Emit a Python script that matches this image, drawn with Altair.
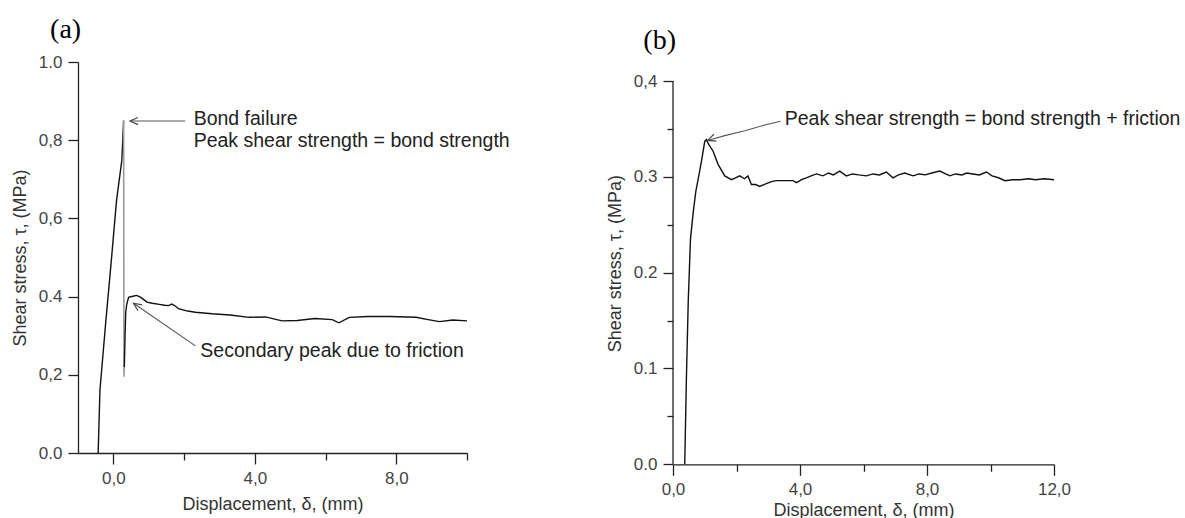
import altair as alt
import pandas as pd

# ---------------- data ----------------
# Panel (a)
a_rise_x = [-0.43, -0.38, -0.22, -0.06, 0.09, 0.24, 0.29]
a_rise_y = [0.0, 0.16, 0.33, 0.49, 0.646, 0.749, 0.85]
a_drop_x = [0.29, 0.30, 0.31]
a_drop_y = [0.85, 0.195, 0.22]
a_post_x = [0.31, 0.33, 0.35, 0.38, 0.43, 0.55, 0.66, 0.78, 0.85, 0.95, 1.1, 1.3, 1.45,
            1.56, 1.65, 1.75, 1.84, 2.1, 2.32, 2.79, 3.3, 3.83, 4.3, 4.77, 5.2, 5.7,
            6.19, 6.38, 6.67, 7.2, 7.8, 8.56, 8.9, 9.22, 9.6, 10.0]
a_post_y = [0.22, 0.30, 0.36, 0.381, 0.398, 0.401, 0.403, 0.398, 0.393, 0.386, 0.383,
            0.38, 0.378, 0.377, 0.381, 0.376, 0.369, 0.363, 0.36, 0.356, 0.353, 0.347,
            0.348, 0.338, 0.339, 0.344, 0.341, 0.333, 0.347, 0.349, 0.349, 0.347,
            0.341, 0.336, 0.34, 0.338]

# Panel (b)
b_x = [0.37, 0.42, 0.48, 0.55, 0.64, 0.72, 0.80, 0.90, 1.0, 1.05, 1.12, 1.26, 1.42, 1.63,
       1.84, 1.97, 2.1, 2.25, 2.36, 2.47, 2.6, 2.73, 2.94, 3.1, 3.26, 3.5, 3.78, 3.89,
       4.05, 4.2, 4.35, 4.52, 4.72, 4.9, 5.05, 5.25, 5.46, 5.65, 5.85, 6.09, 6.3, 6.5,
       6.72, 6.93, 7.1, 7.3, 7.56, 7.75, 7.95, 8.15, 8.4, 8.72, 8.9, 9.1, 9.25, 9.45,
       9.65, 9.87, 10.05, 10.25, 10.46, 10.7, 10.93, 11.2, 11.41, 11.7, 12.0]
b_y = [0.0, 0.087, 0.17, 0.235, 0.264, 0.285, 0.299, 0.317, 0.337, 0.339, 0.334, 0.327,
       0.313, 0.301, 0.297, 0.299, 0.301, 0.298, 0.301, 0.292, 0.292, 0.29, 0.293, 0.295,
       0.296, 0.296, 0.296, 0.294, 0.297, 0.299, 0.301, 0.303, 0.301, 0.304, 0.302,
       0.306, 0.301, 0.303, 0.302, 0.301, 0.303, 0.302, 0.305, 0.299, 0.302, 0.304,
       0.301, 0.303, 0.302, 0.304, 0.306, 0.301, 0.303, 0.302, 0.304, 0.303, 0.302,
       0.305, 0.301, 0.299, 0.296, 0.297, 0.297, 0.298, 0.297, 0.298, 0.297]

# axis ticks / labels
a_x_ticks = [0, 2, 4, 6, 8, 10]
a_x_labels = {0: "0,0", 4: "4,0", 8: "8,0"}
a_y_ticks = [0.0, 0.1, 0.2, 0.3, 0.4, 0.5, 0.6, 0.7, 0.8, 0.9, 1.0]
a_y_labels = {0.0: "0.0", 0.2: "0,2", 0.4: "0.4", 0.6: "0,6", 0.8: "0,8", 1.0: "1.0"}
b_x_ticks = [0, 2, 4, 6, 8, 10, 12]
b_x_labels = {0: "0,0", 4: "4,0", 8: "8,0", 12: "12,0"}
b_y_ticks = [0.0, 0.05, 0.1, 0.15, 0.2, 0.25, 0.3, 0.35, 0.4]
b_y_labels = {0.0: "0.0", 0.1: "0.1", 0.2: "0.2", 0.3: "0.3", 0.4: "0,4"}

x_title = "Displacement, δ, (mm)"
y_title = "Shear stress, τ, (MPa)"

# annotations (data units)
a_notes_text = ["Bond failure", "Peak shear strength = bond strength", "Secondary peak due to friction"]
a_notes_x = [2.27, 2.27, 2.46]
a_notes_y = [0.853, 0.797, 0.262]
a_arrow1_x = [2.03, 0.49]
a_arrow1_y = [0.849, 0.849]
a_arrow2_x = [2.32, 0.57]
a_arrow2_y = [0.274, 0.383]
a_heads_x = [0.47, 0.57]
a_heads_y = [0.849, 0.383]
a_heads_angle = [0, 35]

b_note_text = ["Peak shear strength = bond strength + friction"]
b_note_x = [3.52]
b_note_y = [0.360]
b_arrow_x = [3.39, 2.89, 2.26, 1.63, 1.09]
b_arrow_y = [0.358, 0.354, 0.348, 0.343, 0.338]
b_head_x = [1.09]
b_head_y = [0.338]
b_head_angle = [340]

panel_labels = ["(a)", "(b)"]
a_label_pos = (-1.35, 1.081)
b_label_pos = (-0.42, 0.442)

# ---------------- helpers ----------------
FONT = "Liberation Sans"
CHEVRON = "M 2 -0.9 L 0 0 L 2 0.9"


def label_expr(mapping):
    expr = "''"
    for v, t in sorted(mapping.items(), reverse=True):
        expr = f"abs(datum.value - {v}) < 1e-6 ? '{t}' : ({expr})"
    return expr


def major_test(mapping):
    parts = [f"abs(datum.value - {v}) < 1e-6" for v in mapping]
    return " || ".join(parts)


def make_axis(ticks, labels, title, major, minor, title_pad, domain=True):
    kw = dict(
        values=ticks,
        labelExpr=label_expr(labels),
        title=title,
        grid=False,
        tickSize={"condition": {"test": major_test(labels), "value": major}, "value": minor},
        labelPadding=6,
        titlePadding=title_pad,
        labelFlush=False,
        labelOverlap=False,
    )
    if not domain:
        kw["domain"] = False
    return alt.Axis(**kw)


def line_df(xs, ys):
    return pd.DataFrame({"x": xs, "y": ys, "i": list(range(len(xs)))})


def line_layer(df, xs, ys, color, width):
    return alt.Chart(df).mark_line(color=color, strokeWidth=width).encode(
        x=xs, y=ys, order="i:Q")


# ---------------- panel (a) ----------------
ax = alt.X("x:Q", scale=alt.Scale(domain=[-1, 10], nice=False, zero=False),
           axis=make_axis(a_x_ticks, a_x_labels, x_title, 11, 7, 9))
ay = alt.Y("y:Q", scale=alt.Scale(domain=[0, 1.0], nice=False, zero=False),
           axis=make_axis(a_y_ticks, a_y_labels, y_title, 10, 6, 9))
axp = alt.X("x:Q")
ayp = alt.Y("y:Q")

a_layers = [
    line_layer(line_df(a_rise_x, a_rise_y), ax, ay, "#111", 1.4),
    line_layer(line_df(a_drop_x, a_drop_y), axp, ayp, "#9a9a9a", 1.6),
    line_layer(line_df(a_post_x, a_post_y), axp, ayp, "#111", 1.4),
    line_layer(line_df(a_arrow1_x, a_arrow1_y), axp, ayp, "#555", 1.1),
    line_layer(line_df(a_arrow2_x, a_arrow2_y), axp, ayp, "#555", 1.1),
    alt.Chart(pd.DataFrame({"x": a_heads_x, "y": a_heads_y, "a": a_heads_angle}))
    .mark_point(shape=CHEVRON, size=64, filled=False, color="#444", strokeWidth=1.2, opacity=1)
    .encode(x=axp, y=ayp, angle=alt.Angle("a:Q", scale=None)),
    alt.Chart(pd.DataFrame({"x": a_notes_x, "y": a_notes_y, "t": a_notes_text}))
    .mark_text(align="left", baseline="middle", font=FONT, fontSize=19.5, color="#222")
    .encode(x=axp, y=ayp, text="t:N"),
    alt.Chart(pd.DataFrame({"x": [a_label_pos[0]], "y": [a_label_pos[1]], "t": [panel_labels[0]]}))
    .mark_text(align="center", baseline="middle", font="Liberation Serif", fontSize=28, color="#000")
    .encode(x=axp, y=ayp, text="t:N"),
]
panel_a = alt.layer(*a_layers).properties(width=389, height=391)

# ---------------- panel (b) ----------------
B_TOP = 0.4 * 402.3 / 383.3
bx = alt.X("x:Q", scale=alt.Scale(domain=[0, 12], nice=False, zero=False),
           axis=make_axis(b_x_ticks, b_x_labels, x_title, 11, 7, 4))
by = alt.Y("y:Q", scale=alt.Scale(domain=[0, B_TOP], nice=False, zero=False),
           axis=make_axis(b_y_ticks, b_y_labels, y_title, 10, 6, 9, domain=False))

b_layers = [
    line_layer(line_df(b_x, b_y), bx, by, "#111", 1.4),
    alt.Chart(pd.DataFrame({"x": [0], "y": [0.0], "y2": [0.4]}))
    .mark_rule(color="#222", strokeWidth=1.3)
    .encode(x=axp, y=ayp, y2="y2:Q"),
    line_layer(line_df(b_arrow_x, b_arrow_y), axp, ayp, "#555", 1.1),
    alt.Chart(pd.DataFrame({"x": b_head_x, "y": b_head_y, "a": b_head_angle}))
    .mark_point(shape=CHEVRON, size=64, filled=False, color="#444", strokeWidth=1.2, opacity=1)
    .encode(x=axp, y=ayp, angle=alt.Angle("a:Q", scale=None)),
    alt.Chart(pd.DataFrame({"x": b_note_x, "y": b_note_y, "t": b_note_text}))
    .mark_text(align="left", baseline="middle", font=FONT, fontSize=19.5, color="#222")
    .encode(x=axp, y=ayp, text="t:N"),
    alt.Chart(pd.DataFrame({"x": [b_label_pos[0]], "y": [b_label_pos[1]], "t": [panel_labels[1]]}))
    .mark_text(align="center", baseline="middle", font="Liberation Serif", fontSize=28, color="#000")
    .encode(x=axp, y=ayp, text="t:N"),
]
panel_b = alt.layer(*b_layers).properties(width=381, height=402.3)

chart = (
    alt.hconcat(panel_a, panel_b, spacing=96)
    .properties(padding={"left": 11, "top": 16, "right": 0, "bottom": 0}, background="white")
    .configure_view(stroke=None)
    .configure_axis(
        labelFont=FONT, labelFontSize=17, labelColor="#444",
        titleFont=FONT, titleFontSize=18, titleFontWeight="normal", titleColor="#333",
        domainColor="#222", tickColor="#222", domainWidth=1.3, tickWidth=1.3,
    )
)

chart.save("out.html", embed_options={"renderer": "svg", "actions": False})
